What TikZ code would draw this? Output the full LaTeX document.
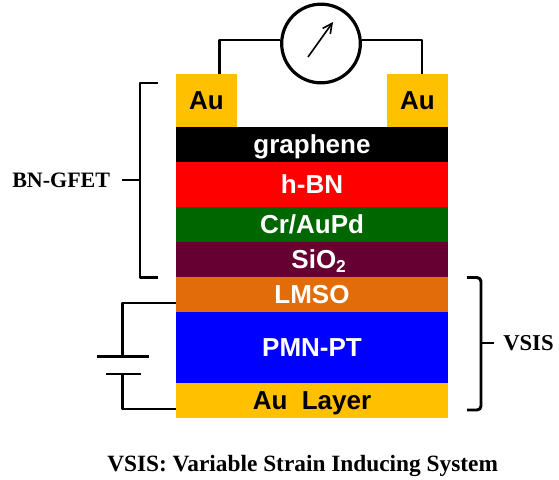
\documentclass[tikz,border=0pt]{standalone}
\usepackage{fontspec}
\setmainfont{Liberation Serif}
\setsansfont{Liberation Sans}
\usepackage{xcolor}
\usepackage{tikz}
\usetikzlibrary{arrows.meta,positioning}
\definecolor{augold}{HTML}{FFC000}
\definecolor{hbnred}{HTML}{FF0000}
\definecolor{crgreen}{HTML}{006600}
\definecolor{siomaroon}{HTML}{660033}
\definecolor{lmsoorange}{HTML}{E36C0A}
\definecolor{pmnblue}{HTML}{0000FF}

\begin{document}
\begin{tikzpicture}[x=0.75pt,y=-0.75pt,
  layer/.style={inner sep=0pt,minimum width=204pt,text=white,text height=14pt,text depth=0pt,
                font=\sffamily\bfseries\fontsize{19.5}{22}\selectfont},
  pad/.style={layer,fill=augold,text=black,minimum width=45.75pt,minimum height=39.75pt},
  wire/.style={line width=2.2pt,line join=round},
  lab/.style={font=\rmfamily\bfseries\fontsize{16.5}{18}\selectfont,inner sep=0pt}]
  \useasboundingbox (0,0) rectangle (559,479);
  % contacts and film stack
  \node[pad] (auleft) at (206.5,100.5) {Au};
  \node[pad] (auright) at (417.5,100.5) {Au};
  \node[layer,fill=black,minimum height=26.25pt] (graphene) at (312,144.5) {graphene};
  \node[layer,fill=hbnred,minimum height=33.75pt] (hbn) at (312,184.5) {h-BN};
  \node[layer,fill=crgreen,minimum height=26.25pt] (crau) at (312,224.5) {Cr/AuPd};
  \node[layer,fill=siomaroon,minimum height=26.25pt] (sio) at (312,259.5) {\hspace*{10pt}SiO\raisebox{-3pt}{\fontsize{13}{13}\selectfont 2}};
  \node[layer,fill=lmsoorange,minimum height=26.25pt] (lmso) at (312,294.5) {LMSO};
  \node[layer,fill=pmnblue,minimum height=53.25pt] (pmn) at (312,347.5) {PMN-PT};
  \node[layer,fill=augold,text=black,minimum height=26.25pt] (aulayer) at (312,400.5) {Au\ \ Layer};
  % meter
  \node[circle,draw,line width=2.4pt,fill=white,minimum size=59pt,inner sep=0pt] (meter) at (321,43.5) {};
  \coordinate (wl) at (219.5,74);
  \coordinate (wr) at (422,74);
  \draw[wire] (wl) |- (meter.west |- 0,40);
  \draw[wire] (wr) |- (meter.east |- 0,40);
  \coordinate (nstart) at (308,57);
  \coordinate (nend) at (333,22);
  \draw[-{Straight Barb[length=2.5mm,width=2.5mm]},line width=1.2pt] (nstart) -- (nend);
  % brackets
  \coordinate (bt) at (158,83);
  \coordinate (bb) at (158,277.5);
  \draw[wire] (bt) -- (140,83) -- (140,277.5) -- (bb);
  \node[lab,anchor=west] (bngfet) at (12,180) {BN-GFET};
  \draw[wire] (bngfet.east -| 122,0) -- (140,180);
  \coordinate (vt) at (467,277.5);
  \coordinate (vb) at (467,410);
  \draw[wire,rounded corners=3pt] (vt) -- (481,277.5) -- (481,410) -- (vb);
  \node[lab,anchor=west,font=\rmfamily\bfseries\fontsize{17}{18}\selectfont] (vsis) at (503,343) {VSIS};
  \draw[wire] (481,343) -- (494,343);
  % battery
  \coordinate (pa) at (97,356.7);
  \coordinate (pb) at (149,356.7);
  \coordinate (qa) at (106,374);
  \coordinate (qb) at (141,374);
  \draw[wire] (pa) -- (pb);
  \draw[wire] (qa) -- (qb);
  \draw[wire] (lmso.west |- 0,303) -| (122.7,356.7);
  \draw[wire] (122.7,374) |- (aulayer.west |- 0,409);
  \node[lab,anchor=west,font=\rmfamily\bfseries\fontsize{17.5}{18}\selectfont] (caption) at (107,466) {VSIS: Variable Strain Inducing System};
\end{tikzpicture}
\end{document}
